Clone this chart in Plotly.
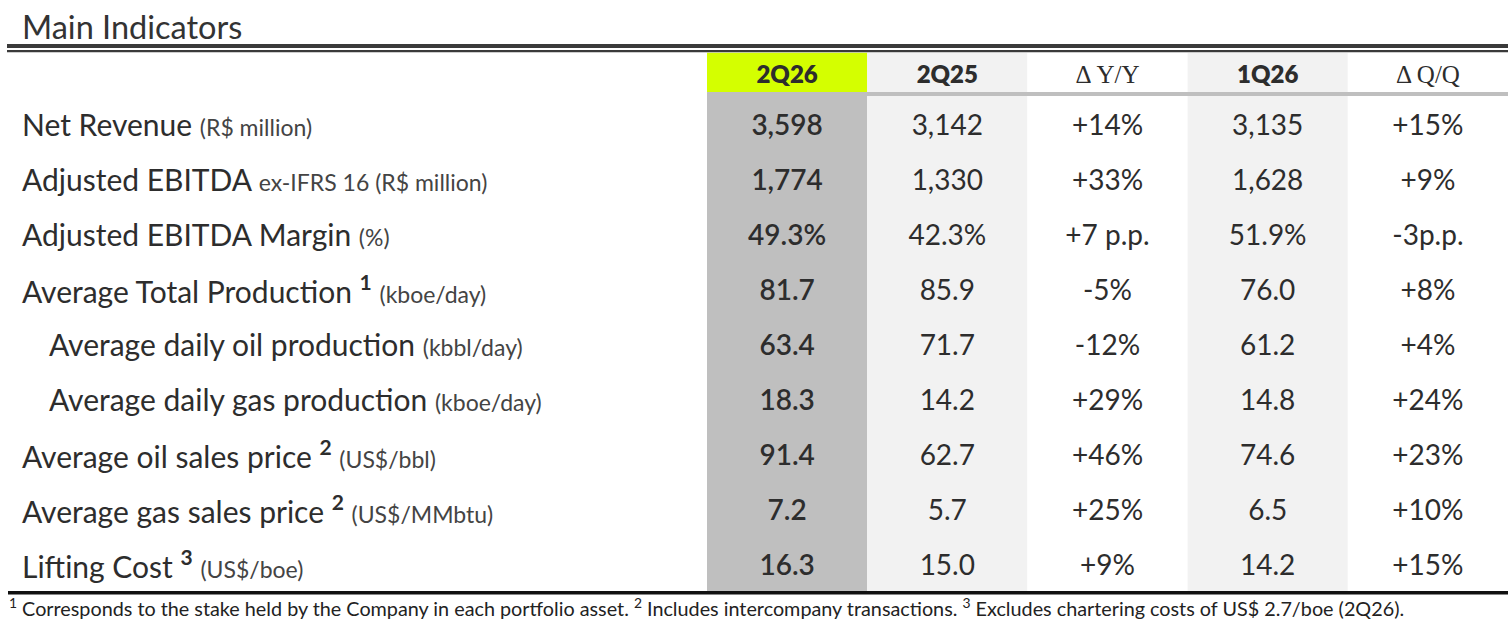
import plotly.graph_objects as go

# data
columns = ["2Q26", "2Q25", "Δ Y/Y", "1Q26", "Δ Q/Q"]
labels = ["Net Revenue", "Adjusted EBITDA", "Adjusted EBITDA Margin",
          "Average Total Production", "Average daily oil production",
          "Average daily gas production", "Average oil sales price",
          "Average gas sales price", "Lifting Cost"]
notes = ["", "", "", "1", "", "", "2", "2", "3"]
units = ["(R$ million)", "ex-IFRS 16 (R$ million)", "(%)", "(kboe/day)",
         "(kbbl/day)", "(kboe/day)", "(US$/bbl)", "(US$/MMbtu)", "(US$/boe)"]
indent = [0, 0, 0, 0, 1, 1, 0, 0, 0]

q2_26 = ["3,598", "1,774", "49.3%", "81.7", "63.4", "18.3", "91.4", "7.2", "16.3"]
q2_25 = ["3,142", "1,330", "42.3%", "85.9", "71.7", "14.2", "62.7", "5.7", "15.0"]
yoy = ["+14%", "+33%", "+7 p.p.", "-5%", "-12%", "+29%", "+46%", "+25%", "+9%"]
q1_26 = ["3,135", "1,628", "51.9%", "76.0", "61.2", "14.8", "74.6", "6.5", "14.2"]
qoq = ["+15%", "+9%", "-3p.p.", "+8%", "+4%", "+24%", "+23%", "+10%", "+15%"]

footnote = ("<sup>1</sup> Corresponds to the stake held by the Company in each portfolio asset. "
            "<sup>2</sup> Includes intercompany transactions. "
            "<sup>3</sup> Excludes chartering costs of US$ 2.7/boe (2Q26).")

# layout constants (pixels)
W, H = 1508, 626
COL_W = 160.2      # width of one value column
LABEL_W = 707      # left edge of first value column
ROW_H = 55
BODY_TOP = 96
HEAD_TOP = 52.7
HEAD_BOT = 92
TEXT_DROP = 4.5    # value text sits a bit below the row middle

TEXT = "#2d2d2d"
LIME = "#d4ff00"
DARK = "#bfbfbf"
LIGHT = "#f2f2f2"

body_colors = [DARK, LIGHT, "white", LIGHT, "white"]
head_colors = [LIME, LIGHT, "white", LIGHT, "white"]


def ydata(px):
    return 0.5 + (px - BODY_TOP) / ROW_H


def xdata(px):
    return 0.5 + (px - LABEL_W) / COL_W


def ypaper(px):
    return 1 - px / H


rows = list(range(1, len(labels) + 1))
cols = list(range(1, len(columns) + 1))

fig = go.Figure()

# column fills
fig.add_trace(go.Bar(x=cols, y=[len(rows)] * len(cols), base=0.5, width=1,
                     marker=dict(color=body_colors, line_width=0), hoverinfo="skip"))
fig.add_trace(go.Bar(x=cols, y=[ydata(HEAD_BOT) - ydata(HEAD_TOP)] * len(cols),
                     base=ydata(HEAD_TOP), width=1,
                     marker=dict(color=head_colors, line_width=0), hoverinfo="skip"))

# header text
for c, name in zip(cols, columns):
    serif = name.startswith("Δ")
    fig.add_trace(go.Scatter(
        x=[c], y=[ydata(76.5)], mode="text", text=[name],
        textfont=dict(family="Liberation Serif" if serif else "Lato",
                      size=25 if serif else 24, color=TEXT,
                      weight="normal" if serif else 800),
        hoverinfo="skip"))

# values
for c, vals in zip(cols, [q2_26, q2_25, yoy, q1_26, qoq]):
    fig.add_trace(go.Scatter(
        x=[c] * len(rows), y=[r + TEXT_DROP / ROW_H for r in rows],
        mode="text", text=vals,
        textfont=dict(family="Lato", size=28, color=TEXT,
                      weight=600 if c == 1 else "normal"),
        hoverinfo="skip"))

# row labels
for r, lab, note, unit, ind in zip(rows, labels, notes, units, indent):
    txt = lab
    if note:
        txt += " <sup><b>" + note + "</b></sup>"
    txt += " <span style='font-size:23px;color:#444'>" + unit + "</span>"
    fig.add_annotation(x=xdata(47 if ind else 20), y=r, xref="x", yref="y",
                       text=txt, showarrow=False, xanchor="left", yanchor="middle",
                       font=dict(family="Lato", size=30, color=TEXT))

# title and footnote
fig.add_annotation(x=20 / W, y=ypaper(27), xref="paper", yref="paper",
                   text="Main Indicators", showarrow=False, xanchor="left",
                   yanchor="middle", font=dict(family="Lato", size=32.5, color="#333"))
fig.add_annotation(x=7 / W, y=ypaper(607), xref="paper", yref="paper",
                   text=footnote, showarrow=False, xanchor="left",
                   yanchor="middle", font=dict(family="Lato", size=19.8, color="#222"))

# rules
shapes = [
    dict(type="rect", xref="paper", yref="paper", x0=7 / W, x1=1,
         y0=ypaper(44), y1=ypaper(48), fillcolor="#3a3a3a", line_width=0),
    dict(type="rect", xref="paper", yref="paper", x0=7 / W, x1=1,
         y0=ypaper(50), y1=ypaper(52.3), fillcolor="#3a3a3a", line_width=0),
    dict(type="rect", xref="x", yref="y", x0=0.5, x1=len(cols) + 0.5,
         y0=ydata(HEAD_BOT), y1=0.5, fillcolor=DARK, line_width=0),
    dict(type="rect", xref="paper", yref="y", x0=8 / W, x1=1,
         y0=len(rows) + 0.5, y1=ydata(594.5), fillcolor="#111", line_width=0),
]

fig.update_layout(
    width=W, height=H,
    margin=dict(l=0, r=0, t=0, b=0),
    paper_bgcolor="white", plot_bgcolor="white",
    showlegend=False, barmode="overlay", shapes=shapes,
    xaxis=dict(range=[xdata(0), xdata(W)], visible=False, fixedrange=True),
    yaxis=dict(range=[ydata(H), ydata(0)], visible=False, fixedrange=True),
)

fig.write_html("out.html", config={"displayModeBar": False},
               post_script="document.body.style.margin='0';")
